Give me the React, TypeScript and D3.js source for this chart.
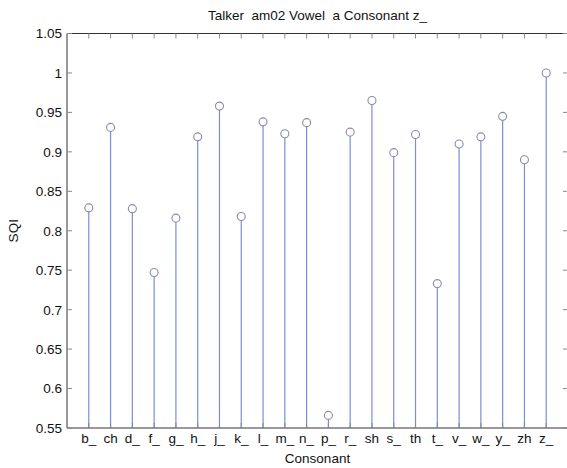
import React from "react";
import * as d3 from "d3";

const categories = ["b_", "ch", "d_", "f_", "g_", "h_", "j_", "k_", "l_", "m_", "n_", "p_", "r_", "sh", "s_", "th", "t_", "v_", "w_", "y_", "zh", "z_"];
const sqi = [0.829, 0.931, 0.828, 0.747, 0.816, 0.919, 0.958, 0.818, 0.938, 0.923, 0.937, 0.566, 0.925, 0.965, 0.899, 0.922, 0.733, 0.910, 0.919, 0.945, 0.890, 1.0];
const yTicks = [0.55, 0.6, 0.65, 0.7, 0.75, 0.8, 0.85, 0.9, 0.95, 1, 1.05];
const title = "Talker  am02 Vowel  a Consonant z_";
const xLabel = "Consonant";
const yLabel = "SQI";

const W = 567, H = 468;
const left = 67, right = 568, top = 33.5, bottom = 428;
const font = "'Liberation Sans', Arial, Helvetica, sans-serif";
const fs = 13.5;

export default function App() {
  const x = d3.scaleLinear().domain([0, categories.length + 1]).range([left, right]);
  const y = d3.scaleLinear().domain([0.55, 1.05]).range([bottom, top]);
  const tl = 5;
  const axisColor = "#333";
  return (
    <svg width={W} height={H} style={{ position: "absolute", left: 0, top: 0, background: "#fff" }}>
      <rect x={0} y={0} width={W} height={H} fill="#fff" />
      {sqi.map((v, i) => (
        <g key={i}>
          <line x1={x(i + 1)} x2={x(i + 1)} y1={y(0.55)} y2={y(v) + 4} stroke="#7b8ddb" strokeWidth={1.2} />
          <circle cx={x(i + 1)} cy={y(v)} r={4} fill="none" stroke="#8a8aa6" strokeWidth={1.1} />
        </g>
      ))}
      <line x1={left} x2={right} y1={top} y2={top} stroke={axisColor} strokeWidth={1} />
      <line x1={left} x2={right} y1={bottom} y2={bottom} stroke={axisColor} strokeWidth={1} />
      <line x1={left} x2={left} y1={top} y2={bottom} stroke={axisColor} strokeWidth={1} />
      <line x1={right} x2={right} y1={top} y2={bottom} stroke={axisColor} strokeWidth={1} />
      {yTicks.map((t) => (
        <g key={t}>
          <line x1={left} x2={left + tl} y1={y(t)} y2={y(t)} stroke="#888" strokeWidth={1} />
          <line x1={right - tl} x2={right} y1={y(t)} y2={y(t)} stroke="#888" strokeWidth={1} />
          <text x={left - 5} y={y(t)} dy="0.36em" textAnchor="end" fontFamily={font} fontSize={fs} fill="#111">
            {String(t)}
          </text>
        </g>
      ))}
      {categories.map((c, i) => (
        <g key={c}>
          <line x1={x(i + 1)} x2={x(i + 1)} y1={top} y2={top + tl} stroke="#888" strokeWidth={1} />
          <line x1={x(i + 1)} x2={x(i + 1)} y1={bottom} y2={bottom - tl} stroke="#888" strokeWidth={1} />
          <text x={x(i + 1)} y={bottom + 15} textAnchor="middle" fontFamily={font} fontSize={fs} fill="#111">
            {c}
          </text>
        </g>
      ))}
      <text x={(left + right) / 2} y={20} textAnchor="middle" fontFamily={font} fontSize={fs} fill="#111" style={{ whiteSpace: "pre" }}>
        {title}
      </text>
      <text x={(left + right) / 2} y={463} textAnchor="middle" fontFamily={font} fontSize={fs} fill="#111">
        {xLabel}
      </text>
      <text transform={`translate(18, ${(top + bottom) / 2}) rotate(-90)`} textAnchor="middle" fontFamily={font} fontSize={fs} fill="#111">
        {yLabel}
      </text>
    </svg>
  );
}
